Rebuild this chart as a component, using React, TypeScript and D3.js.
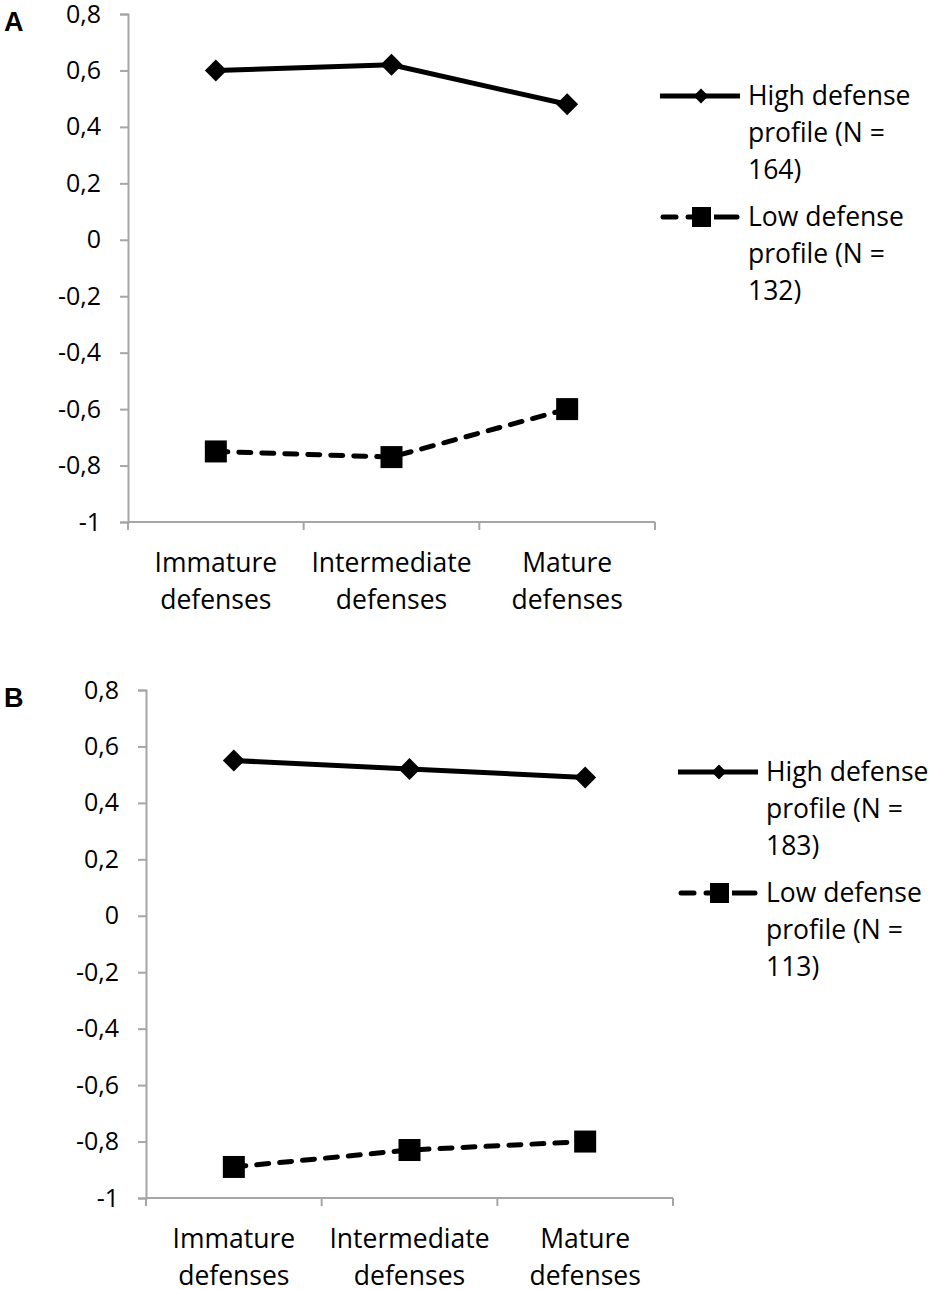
import * as d3 from "d3";
import { useEffect, useRef } from "react";

// categories on the x axis (two text lines each)
const categories = ["Immature defenses", "Intermediate defenses", "Mature defenses"];
const yTicks = [0.8, 0.6, 0.4, 0.2, 0, -0.2, -0.4, -0.6, -0.8, -1];

// panel A
const highA = [0.6, 0.62, 0.48];
const lowA = [-0.75, -0.77, -0.6];
const legendA = ["High defense profile (N = 164)", "Low defense profile (N = 132)"];

// panel B
const highB = [0.55, 0.52, 0.49];
const lowB = [-0.89, -0.83, -0.8];
const legendB = ["High defense profile (N = 183)", "Low defense profile (N = 113)"];

const FONT = "'Open Sans', 'DejaVu Sans', sans-serif";

function splitLabel(s: string): string[] {
    // wrap the legend text the way the original did
    const m = s.match(/^(\w+ defense) (profile \(N =) (\d+\))$/);
    return m ? [m[1], m[2], m[3]] : [s];
}

function drawPanel(
    svg: d3.Selection<SVGSVGElement, unknown, null, undefined>,
    opts: { left: number; top: number; letter: string; high: number[]; low: number[]; legend: string[] }
) {
    const { left, top, letter, high, low, legend } = opts;
    const width = 527;
    const height = 508;
    const g = svg.append("g");

    const x = d3.scaleBand().domain(categories).range([left, left + width]);
    const y = d3.scaleLinear().domain([-1, 0.8]).range([top + height, top]);

    // panel letter
    g.append("text")
        .attr("x", 4)
        .attr("y", top + 17)
        .attr("font-family", "'Liberation Sans', Arial, sans-serif")
        .attr("font-weight", "bold")
        .attr("font-size", 27)
        .text(letter);

    // y axis
    const yAxis = g.append("g")
        .attr("transform", `translate(${left},0)`)
        .call(d3.axisLeft(y).tickValues(yTicks).tickSize(8).tickPadding(19)
            .tickFormat((d) => d3.format(".1~f")(d as number).replace(".", ",").replace("\u2212", "-")));
    yAxis.select(".domain").attr("stroke", "#a6a6a6").attr("stroke-width", 2);
    yAxis.selectAll(".tick line").attr("stroke", "#a6a6a6").attr("stroke-width", 2);
    yAxis.selectAll(".tick text")
        .attr("font-family", FONT)
        .attr("font-size", 25)
        .attr("fill", "#000");

    // x axis: ticks at band edges
    const xg = g.append("g");
    xg.append("line")
        .attr("x1", left).attr("x2", left + width)
        .attr("y1", y(-1)).attr("y2", y(-1))
        .attr("stroke", "#a6a6a6").attr("stroke-width", 2);
    const edges = [...categories.map((c) => x(c)!), left + width];
    xg.selectAll("line.tk")
        .data(edges)
        .join("line")
        .attr("class", "tk")
        .attr("x1", (d) => d).attr("x2", (d) => d)
        .attr("y1", y(-1)).attr("y2", y(-1) + 8)
        .attr("stroke", "#a6a6a6").attr("stroke-width", 2);
    xg.selectAll("text")
        .data(categories)
        .join("text")
        .attr("x", (d) => x(d)! + x.bandwidth() / 2)
        .attr("y", y(-1) + 50)
        .attr("text-anchor", "middle")
        .attr("font-family", FONT)
        .attr("font-size", 26.5)
        .each(function (d) {
            const t = d3.select(this);
            d.split(" ").forEach((w, i) => {
                t.append("tspan")
                    .attr("x", x(d)! + x.bandwidth() / 2)
                    .attr("dy", i === 0 ? 0 : 37)
                    .text(w);
            });
        });

    const cx = (i: number) => x(categories[i])! + x.bandwidth() / 2;
    const line = d3.line<number>().x((_, i) => cx(i)).y((d) => y(d));

    // high series
    g.append("path")
        .attr("d", line(high)!)
        .attr("fill", "none")
        .attr("stroke", "#000")
        .attr("stroke-width", 5);
    g.selectAll("path.dia")
        .data(high)
        .join("path")
        .attr("class", "dia")
        .attr("d", d3.symbol(d3.symbolSquare, 240)()!)
        .attr("transform", (d, i) => `translate(${cx(i)},${y(d)}) rotate(45)`)
        .attr("fill", "#000");

    // low series
    g.append("path")
        .attr("d", line(low)!)
        .attr("fill", "none")
        .attr("stroke", "#000")
        .attr("stroke-width", 5)
        .attr("stroke-dasharray", "12 11")
        .attr("stroke-linecap", "round");
    g.selectAll("rect.sq")
        .data(low)
        .join("rect")
        .attr("class", "sq")
        .attr("x", (_, i) => cx(i) - 11)
        .attr("y", (d) => y(d) - 11)
        .attr("width", 22)
        .attr("height", 22)
        .attr("fill", "#000");

    // legend
    const lx = left + width + 5;
    const ly = [top + 82, top + 203];
    const lg = g.append("g");
    // high entry
    lg.append("line")
        .attr("x1", lx).attr("x2", lx + 80)
        .attr("y1", ly[0]).attr("y2", ly[0])
        .attr("stroke", "#000").attr("stroke-width", 5);
    lg.append("path")
        .attr("d", d3.symbol(d3.symbolSquare, 110)()!)
        .attr("transform", `translate(${lx + 41},${ly[0]}) rotate(45)`)
        .attr("fill", "#000");
    // low entry: dash, square, dash
    [[lx + 3, lx + 16], [lx + 28, lx + 77]].forEach(([a, b]) => {
        lg.append("line")
            .attr("x1", a).attr("x2", b)
            .attr("y1", ly[1]).attr("y2", ly[1])
            .attr("stroke", "#000").attr("stroke-width", 5)
            .attr("stroke-linecap", "round");
    });
    lg.append("rect")
        .attr("x", lx + 32).attr("y", ly[1] - 10)
        .attr("width", 19).attr("height", 20)
        .attr("fill", "#000");
    lg.append("rect")
        .attr("x", lx + 51).attr("y", ly[1] - 3)
        .attr("width", 3).attr("height", 6)
        .attr("fill", "#fff");

    legend.forEach((label, k) => {
        const t = lg.append("text")
            .attr("x", lx + 88)
            .attr("y", ly[k] + 9)
            .attr("font-family", FONT)
            .attr("font-size", 26.5);
        splitLabel(label).forEach((s, i) => {
            t.append("tspan")
                .attr("x", lx + 88)
                .attr("dy", i === 0 ? 0 : 37)
                .text(s);
        });
    });
}

function DefenseCharts() {
    const ref = useRef<SVGSVGElement>(null);

    useEffect(() => {
        const svg = d3.select(ref.current!);
        svg.selectAll("*").remove();
        svg.append("rect").attr("width", 930).attr("height", 1289).attr("fill", "#fff");
        drawPanel(svg, { left: 128, top: 14, letter: "A", high: highA, low: lowA, legend: legendA });
        drawPanel(svg, { left: 146, top: 690, letter: "B", high: highB, low: lowB, legend: legendB });
    }, []);

    return <svg ref={ref} width={930} height={1289} style={{ display: "block" }} />;
}

export default function App() {
    return (
        <div style={{ position: "absolute", left: 0, top: 0 }}>
            <DefenseCharts />
        </div>
    );
}
